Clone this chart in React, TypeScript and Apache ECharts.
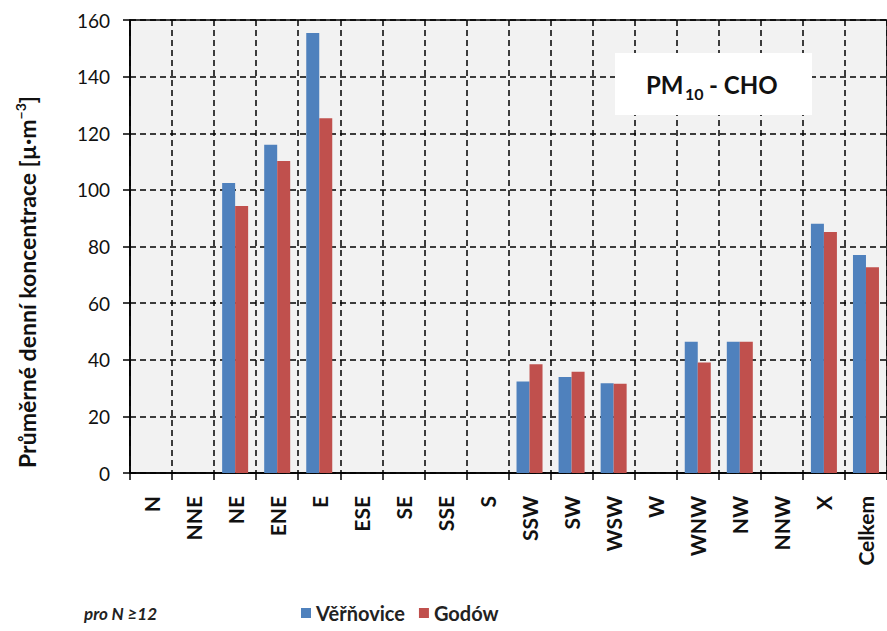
import React, { useEffect, useRef } from "react";
import * as echarts from "echarts";

const categories = ["N", "NNE", "NE", "ENE", "E", "ESE", "SE", "SSE", "S", "SSW", "SW", "WSW", "W", "WNW", "NW", "NNW", "X", "Celkem"];
const verrnovice = [null, null, 102.4, 115.9, 155.4, null, null, null, null, 32.3, 33.9, 31.7, null, 46.4, 46.4, null, 88.0, 77.0];
const godow = [null, null, 94.3, 110.2, 125.3, null, null, null, null, 38.4, 35.8, 31.5, null, 39.0, 46.4, null, 85.1, 72.7];
const yTicks = { min: 0, max: 160, interval: 20 };

const FONT = "Lato";

export default function App() {
  const ref = useRef<HTMLDivElement>(null);
  useEffect(() => {
    if (!ref.current) return;
    const chart = echarts.init(ref.current, null, { renderer: "svg" });
    chart.setOption({
      animation: false,
      backgroundColor: "#ffffff",
      textStyle: { fontFamily: FONT },
      grid: {
        left: 130,
        top: 20,
        right: 0,
        bottom: 158,
        show: true,
        backgroundColor: "#f2f2f2",
        borderColor: "#000",
        borderWidth: 1.5,
      },
      legend: {
        left: 296,
        top: 598,
        itemWidth: 10,
        itemHeight: 10,
        itemGap: 14,
        icon: "rect",
        textStyle: { fontFamily: FONT, fontSize: 20, fontWeight: "bold", color: "#222" },
        data: ["Věřňovice", "Godów"],
      },
      xAxis: {
        type: "category",
        data: categories,
        axisLine: { show: true, lineStyle: { color: "#000", width: 1.5 } },
        axisTick: { show: true, length: 7, interval: 0, lineStyle: { color: "#000", width: 1.5 } },
        axisLabel: {
          interval: 0,
          rotate: 90,
          margin: 23,
          fontFamily: FONT,
          fontSize: 21,
          fontWeight: "bold",
          color: "#111",
        },
        splitLine: {
          show: true,
          interval: 0,
          lineStyle: { color: "#000", width: 1.5, type: [6, 4] },
        },
      },
      yAxis: {
        type: "value",
        min: yTicks.min,
        max: yTicks.max,
        interval: yTicks.interval,
        axisLine: { show: true, lineStyle: { color: "#000", width: 1.5 } },
        axisTick: { show: true, length: 7, lineStyle: { color: "#000", width: 1.5 } },
        axisLabel: { fontFamily: FONT, fontSize: 19, color: "#111", margin: 20 },
        splitLine: { show: true, lineStyle: { color: "#000", width: 1.5, type: [6, 4] } },
      },
      series: [
        {
          name: "Věřňovice",
          type: "bar",
          data: verrnovice,
          barWidth: 13,
          barGap: "0%",
          itemStyle: { color: "#4f81bd" },
        },
        {
          name: "Godów",
          type: "bar",
          data: godow,
          barWidth: 13,
          barGap: "0%",
          itemStyle: { color: "#c0504d" },
        },
      ],
      graphic: [
        {
          type: "text",
          x: 27,
          y: 282,
          rotation: Math.PI / 2,
          style: {
            text: "{a|Průměrné denní koncentrace [µ·m}{s|−3}{a|]}",
            align: "center",
            verticalAlign: "middle",
            rich: {
              a: { fontFamily: FONT, fontSize: 23, fontWeight: "bold", fill: "#111", lineHeight: 28 },
              s: { fontFamily: FONT, fontSize: 14, fontWeight: "bold", fill: "#111", verticalAlign: "top", lineHeight: 28 },
            },
          },
        },
        {
          type: "rect",
          shape: { x: 615, y: 53, width: 197, height: 62 },
          style: { fill: "#ffffff" },
          z: 10,
        },
        {
          type: "text",
          x: 646,
          y: 84,
          z: 11,
          style: { text: "PM", font: `bold 24px ${FONT}`, fill: "#111", verticalAlign: "middle" },
        },
        {
          type: "text",
          x: 685,
          y: 93,
          z: 11,
          style: { text: "10", font: `bold 16px ${FONT}`, fill: "#111", verticalAlign: "middle" },
        },
        {
          type: "text",
          x: 709,
          y: 84,
          z: 11,
          style: { text: "- CHO", font: `bold 24px ${FONT}`, fill: "#111", verticalAlign: "middle" },
        },
        {
          type: "text",
          x: 84,
          y: 613,
          style: { text: "pro N ≥12", font: `italic bold 17px ${FONT}`, fill: "#222", verticalAlign: "middle" },
        },
      ],
    });
    return () => chart.dispose();
  }, []);
  return (
    <div
      ref={ref}
      style={{ position: "fixed", left: 0, top: 0, width: 887, height: 631 }}
    />
  );
}
